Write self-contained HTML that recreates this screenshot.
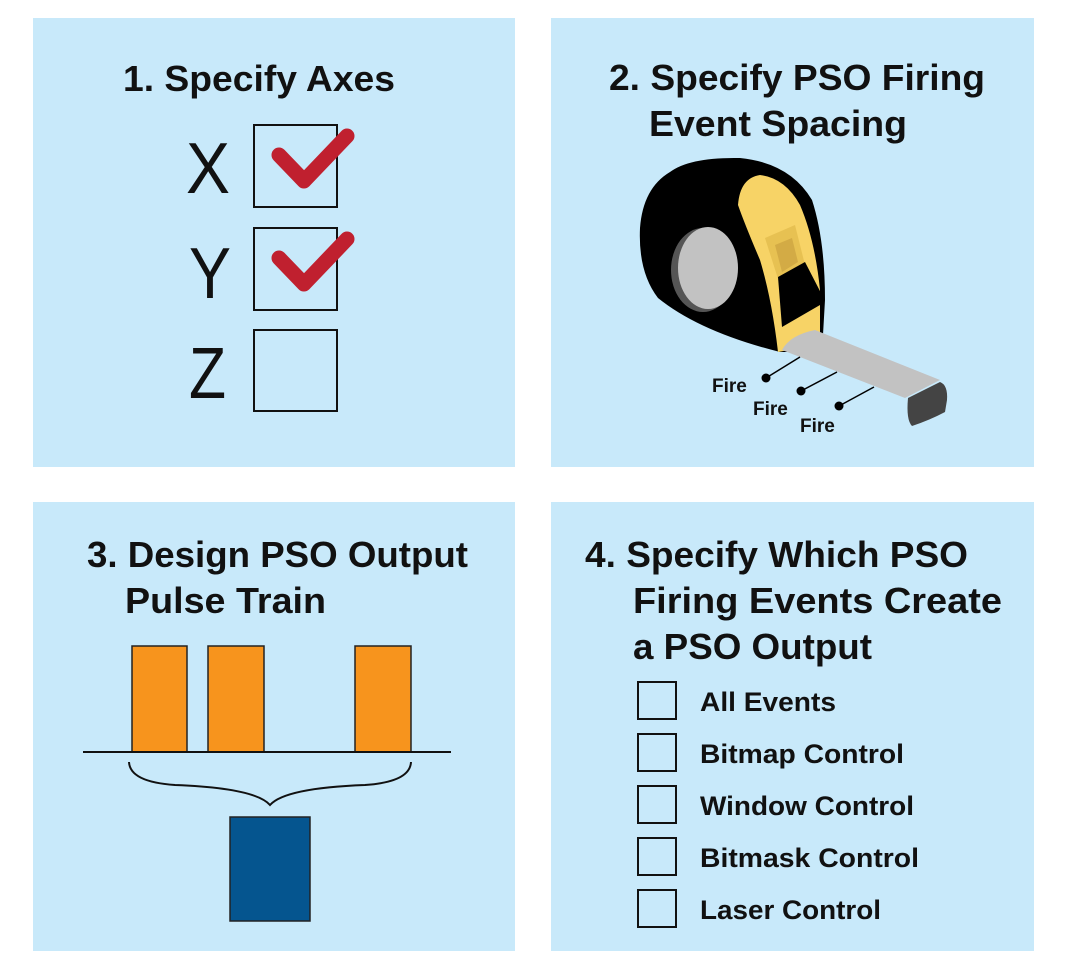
<!DOCTYPE html>
<html><head><style>body{margin:0;background:#fff}svg{display:block}</style></head>
<body>
<svg width="1066" height="978" viewBox="0 0 1066 978" xmlns="http://www.w3.org/2000/svg" font-family="Liberation Sans, sans-serif">
<rect width="1066" height="978" fill="#fff"/>
<g fill="#c8e9fa">
<rect x="33" y="18" width="482" height="449"/>
<rect x="551" y="18" width="483" height="449"/>
<rect x="33" y="502" width="482" height="449"/>
<rect x="551" y="502" width="483" height="449"/>
</g>
<g font-weight="bold" font-size="36" fill="#111">
<text x="123" y="91" textLength="272" lengthAdjust="spacingAndGlyphs">1. Specify Axes</text>
<text x="609" y="90" textLength="376" lengthAdjust="spacingAndGlyphs">2. Specify PSO Firing</text>
<text x="649" y="136" textLength="258" lengthAdjust="spacingAndGlyphs">Event Spacing</text>
<text x="87" y="567" textLength="381" lengthAdjust="spacingAndGlyphs">3. Design PSO Output</text>
<text x="125" y="613" textLength="201" lengthAdjust="spacingAndGlyphs">Pulse Train</text>
<text x="585" y="567" textLength="383" lengthAdjust="spacingAndGlyphs">4. Specify Which PSO</text>
<text x="633" y="613" textLength="369" lengthAdjust="spacingAndGlyphs">Firing Events Create</text>
<text x="633" y="659" textLength="239" lengthAdjust="spacingAndGlyphs">a PSO Output</text>
</g>
<g font-size="72" fill="#111">
<text x="186" y="193" textLength="44" lengthAdjust="spacingAndGlyphs">X</text>
<text x="189" y="298" textLength="42" lengthAdjust="spacingAndGlyphs">Y</text>
<text x="189" y="398" textLength="37" lengthAdjust="spacingAndGlyphs">Z</text>
</g>
<g fill="none" stroke="#111" stroke-width="2">
<rect x="254" y="125" width="83" height="82"/>
<rect x="254" y="228" width="83" height="82"/>
<rect x="254" y="330" width="83" height="81"/>
</g>
<g fill="none" stroke="#c0202f" stroke-width="15" stroke-linecap="round" stroke-linejoin="round">
<path d="M279 155 L304 181 L347 136"/>
<path d="M279 258 L304 284 L347 239"/>
</g>
<!-- tape measure -->
<path d="M670 172 Q690 157 740 158 Q790 163 812 200 Q825 240 825 300 L822 352 L780 352 Q700 332 658 298 Q638 272 640 228 Q643 188 670 172Z" fill="#000"/>
<path d="M738 205 Q740 178 760 175 Q785 178 800 205 Q815 240 820 290 L820 340 Q815 350 800 348 L778 352 Q772 300 760 260 Q745 225 738 205Z" fill="#f7d366"/>
<path d="M765 238 L795 225 L805 265 L780 285Z" fill="#e7c152"/>
<path d="M775 245 L792 238 L798 262 L782 272Z" fill="#d3ab45"/>
<path d="M778 277 L805 262 L822 295 L820 305 L782 327Z" fill="#000"/>
<ellipse cx="703" cy="270" rx="32" ry="42" fill="#555"/>
<ellipse cx="708" cy="268" rx="30" ry="41" fill="#c2c2c2"/>
<path d="M782 350 Q790 335 815 330 L940 380 L905 398Z" fill="#c2c2c2"/>
<path d="M908 398 L940 382 Q948 385 947 400 L945 412 Q930 420 912 426 Q906 420 908 398Z" fill="#444"/>
<g stroke="#000" stroke-width="1.5">
<line x1="766" y1="378" x2="800" y2="357"/>
<line x1="801" y1="391" x2="837" y2="372"/>
<line x1="839" y1="406" x2="874" y2="387"/>
</g>
<g fill="#000"><circle cx="766" cy="378" r="4.5"/><circle cx="801" cy="391" r="4.5"/><circle cx="839" cy="406" r="4.5"/></g>
<g font-size="19" font-weight="bold" fill="#111">
<text x="712" y="392">Fire</text>
<text x="753" y="415">Fire</text>
<text x="800" y="432">Fire</text>
</g>
<g fill="#f7941d" stroke="#222" stroke-width="1.5">
<rect x="132" y="646" width="55" height="106"/>
<rect x="208" y="646" width="56" height="106"/>
<rect x="355" y="646" width="56" height="106"/>
</g>
<line x1="83" y1="752" x2="451" y2="752" stroke="#111" stroke-width="2"/>
<path d="M129 762 Q130 782 175 785 Q255 788 270 805 Q285 788 365 785 Q410 782 411 762" fill="none" stroke="#111" stroke-width="2"/>
<rect x="230" y="817" width="80" height="104" fill="#05558f" stroke="#222" stroke-width="1.5"/>
<g fill="none" stroke="#111" stroke-width="2">
<rect x="638" y="682" width="38" height="37"/>
<rect x="638" y="734" width="38" height="37"/>
<rect x="638" y="786" width="38" height="37"/>
<rect x="638" y="838" width="38" height="37"/>
<rect x="638" y="890" width="38" height="37"/>
</g>
<g font-size="27" font-weight="bold" fill="#111">
<text x="700" y="711" textLength="136" lengthAdjust="spacingAndGlyphs">All Events</text>
<text x="700" y="763" textLength="204" lengthAdjust="spacingAndGlyphs">Bitmap Control</text>
<text x="700" y="815" textLength="214" lengthAdjust="spacingAndGlyphs">Window Control</text>
<text x="700" y="867" textLength="219" lengthAdjust="spacingAndGlyphs">Bitmask Control</text>
<text x="700" y="919" textLength="181" lengthAdjust="spacingAndGlyphs">Laser Control</text>
</g>
</svg>
</body></html>
